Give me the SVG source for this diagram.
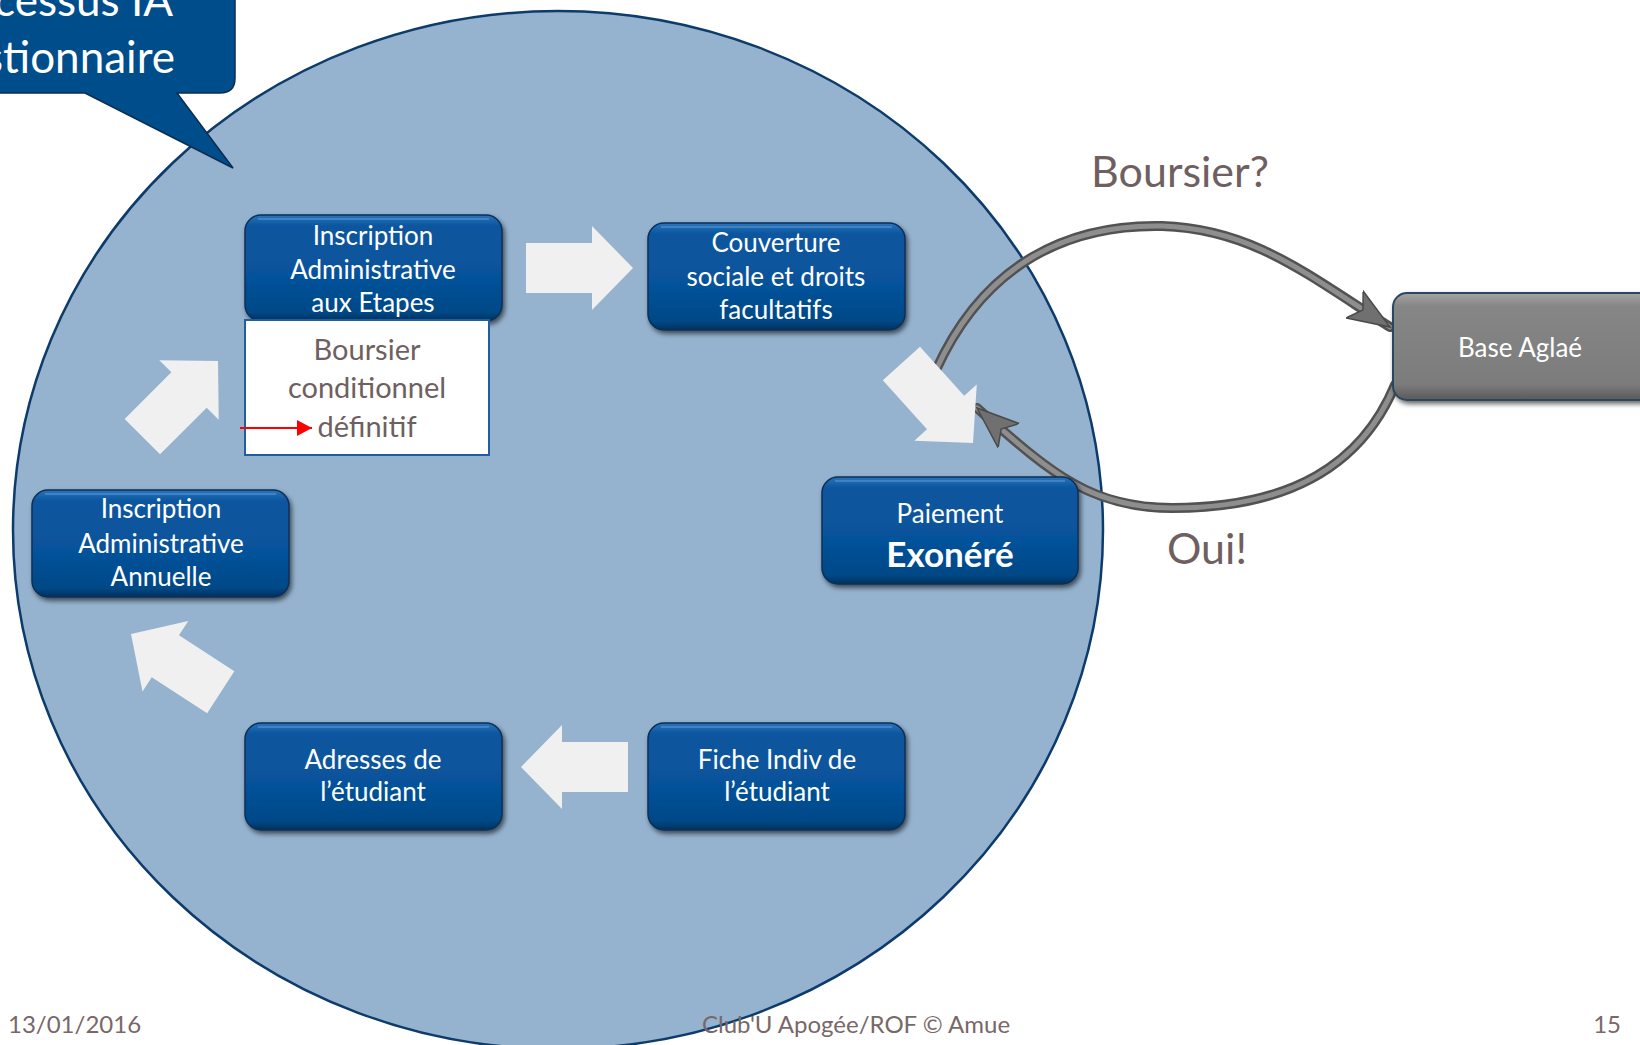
<svg xmlns="http://www.w3.org/2000/svg" width="1640" height="1045" viewBox="0 0 1640 1045">
<style>
  .bt{font-family:Lato,"Open Sans",sans-serif;font-size:26px;fill:#ffffff;text-anchor:middle}
  .bt.big{font-size:35px;font-weight:bold}
  .gt{font-family:Lato,"Open Sans",sans-serif;fill:#6f5f60;text-anchor:middle}
  .ft{font-family:Lato,"Open Sans",sans-serif;font-size:24px;fill:#786868}
  .box{fill:url(#blueGrad);stroke:#0a2f57;stroke-width:1.5;filter:url(#shadow)}
  .hl{fill:none;stroke:#4c8fd0;stroke-width:2;stroke-opacity:.7}
  .flow{fill:#f0f0f0}
  .tubeOut{fill:none;stroke:#525252;stroke-width:10;stroke-linecap:round}
  .tubeIn{fill:none;stroke:#8e8e8e;stroke-width:5;stroke-linecap:round}
</style>
<defs>
  <linearGradient id="blueGrad" x1="0" y1="0" x2="0" y2="1">
    <stop offset="0" stop-color="#2a74ba"/>
    <stop offset="0.1" stop-color="#0b579f"/>
    <stop offset="0.6" stop-color="#06529a"/>
    <stop offset="0.92" stop-color="#044886"/>
    <stop offset="1" stop-color="#02305c"/>
  </linearGradient>
  <linearGradient id="grayGrad" x1="0" y1="0" x2="0" y2="1">
    <stop offset="0" stop-color="#a5a5a5"/>
    <stop offset="0.12" stop-color="#868686"/>
    <stop offset="0.85" stop-color="#7c7c7c"/>
    <stop offset="1" stop-color="#5a5a5a"/>
  </linearGradient>
  <filter id="shadow" x="-10%" y="-10%" width="125%" height="135%">
    <feDropShadow dx="2" dy="3" stdDeviation="2.5" flood-color="#000" flood-opacity="0.6"/>
  </filter>
  <marker id="grayHead" markerUnits="userSpaceOnUse" markerWidth="46" markerHeight="36" refX="42" refY="18" orient="auto">
    <path d="M0,2 L42,18 L0,34 L10,18 Z" fill="#707070" stroke="#4a4a4a" stroke-width="1.5"/>
  </marker>
  <marker id="redHead" markerUnits="userSpaceOnUse" markerWidth="16" markerHeight="16" refX="15" refY="8" orient="auto">
    <path d="M0,0 L15,8 L0,16 Z" fill="#ff0000"/>
  </marker>
  <path id="blockArrow" d="M-107,-25 L-41,-25 L-41,-42 L0,0 L-41,42 L-41,25 L-107,25 Z"/>
</defs>

<rect x="0" y="0" width="1640" height="1045" fill="#ffffff"/>

<ellipse id="cycle" cx="558" cy="530" rx="545" ry="519" fill="#95b3cf" stroke="#0d3b6b" stroke-width="2.5"/>

<g id="connectors">
  <path class="tubeOut" d="M936,370 C985,262 1070,224 1162,226 C1252,229 1305,273 1390,327"/>
  <path class="tubeIn" d="M936,370 C985,262 1070,224 1162,226 C1252,229 1305,273 1390,327"/>
  <path fill="none" stroke="none" d="M936,370 C985,262 1070,224 1162,226 C1252,229 1305,273 1390,327" marker-end="url(#grayHead)"/>
  <path class="tubeOut" d="M1395,385 C1362,464 1292,508 1172,508 C1088,508 1048,470 977,408"/>
  <path class="tubeIn" d="M1395,385 C1362,464 1292,508 1172,508 C1088,508 1048,470 977,408"/>
  <path fill="none" stroke="none" d="M1395,385 C1362,464 1292,508 1172,508 C1088,508 1048,470 977,408" marker-end="url(#grayHead)"/>
</g>

<g id="flow-arrows">
  <use href="#blockArrow" class="flow" transform="translate(633,268)"/>
  <use href="#blockArrow" class="flow" transform="translate(973,443) rotate(48)"/>
  <use href="#blockArrow" class="flow" transform="translate(521,767) rotate(180)"/>
  <use href="#blockArrow" class="flow" transform="translate(131,634) rotate(213)"/>
  <use href="#blockArrow" class="flow" transform="translate(218,361) rotate(-45)"/>
</g>

<g id="node-etapes">
  <rect class="box" x="245" y="215" width="257" height="106" rx="16"/>
  <path class="hl" d="M258,219 H489"/>
  <text class="bt" x="373" y="245">Inscription</text>
  <text class="bt" x="373" y="279">Administrative</text>
  <text class="bt" x="373" y="312">aux Etapes</text>
</g>

<g id="node-boursier">
  <rect x="245" y="320" width="244" height="135" fill="#ffffff" stroke="#1f5f9f" stroke-width="2"/>
  <text class="gt" x="367" y="360" font-size="29">Boursier</text>
  <text class="gt" x="367" y="398" font-size="29">conditionnel</text>
  <text class="gt" x="367" y="437" font-size="29">définitif</text>
  <line x1="240" y1="428" x2="312" y2="428" stroke="#ff0000" stroke-width="2" marker-end="url(#redHead)"/>
</g>

<g id="node-couverture">
  <rect class="box" x="648" y="223" width="257" height="107" rx="16"/>
  <path class="hl" d="M661,227 H892"/>
  <text class="bt" x="776" y="252">Couverture</text>
  <text class="bt" x="776" y="286">sociale et droits</text>
  <text class="bt" x="776" y="319">facultatifs</text>
</g>

<g id="node-paiement">
  <rect class="box" x="822" y="477" width="256" height="107" rx="16"/>
  <path class="hl" d="M835,481 H1065"/>
  <text class="bt" x="950" y="523">Paiement</text>
  <text class="bt big" x="950" y="567">Exonéré</text>
</g>

<g id="node-annuelle">
  <rect class="box" x="32" y="490" width="257" height="107" rx="16"/>
  <path class="hl" d="M45,494 H276"/>
  <text class="bt" x="161" y="518">Inscription</text>
  <text class="bt" x="161" y="553">Administrative</text>
  <text class="bt" x="161" y="586">Annuelle</text>
</g>

<g id="node-adresses">
  <rect class="box" x="245" y="723" width="257" height="107" rx="16"/>
  <path class="hl" d="M258,727 H489"/>
  <text class="bt" x="373" y="769">Adresses de</text>
  <text class="bt" x="373" y="801">l’étudiant</text>
</g>

<g id="node-fiche">
  <rect class="box" x="648" y="723" width="257" height="107" rx="16"/>
  <path class="hl" d="M661,727 H892"/>
  <text class="bt" x="777" y="769">Fiche Indiv de</text>
  <text class="bt" x="777" y="801">l’étudiant</text>
</g>

<g id="node-aglae">
  <rect x="1393" y="293" width="270" height="107" rx="14" fill="url(#grayGrad)" stroke="#2c4662" stroke-width="2" filter="url(#shadow)"/>
  <text class="bt" x="1520" y="357">Base Aglaé</text>
</g>

<g id="labels">
  <text class="gt" x="1180" y="187" font-size="43">Boursier?</text>
  <text class="gt" x="1207" y="564" font-size="43">Oui!</text>
</g>

<g id="callout">
  <path d="M-20,-20 H220 Q235,-20 235,-5 V78 Q235,93 220,93 H177 L233,168 L85,93 H-20 Z" fill="#004d8c" stroke="#0b2d50" stroke-width="1.5"/>
  <text x="173" y="16" font-family="Lato,'Open Sans',sans-serif" font-size="44" fill="#ffffff" text-anchor="end">cessus IA</text>
  <text x="175" y="73" font-family="Lato,'Open Sans',sans-serif" font-size="44" fill="#ffffff" text-anchor="end">stionnaire</text>
</g>

<g id="footer">
  <text class="ft" x="8" y="1033">13/01/2016</text>
  <text class="ft" x="856" y="1033" text-anchor="middle">Club'U Apogée/ROF © Amue</text>
  <text class="ft" x="1621" y="1033" text-anchor="end">15</text>
</g>
</svg>
